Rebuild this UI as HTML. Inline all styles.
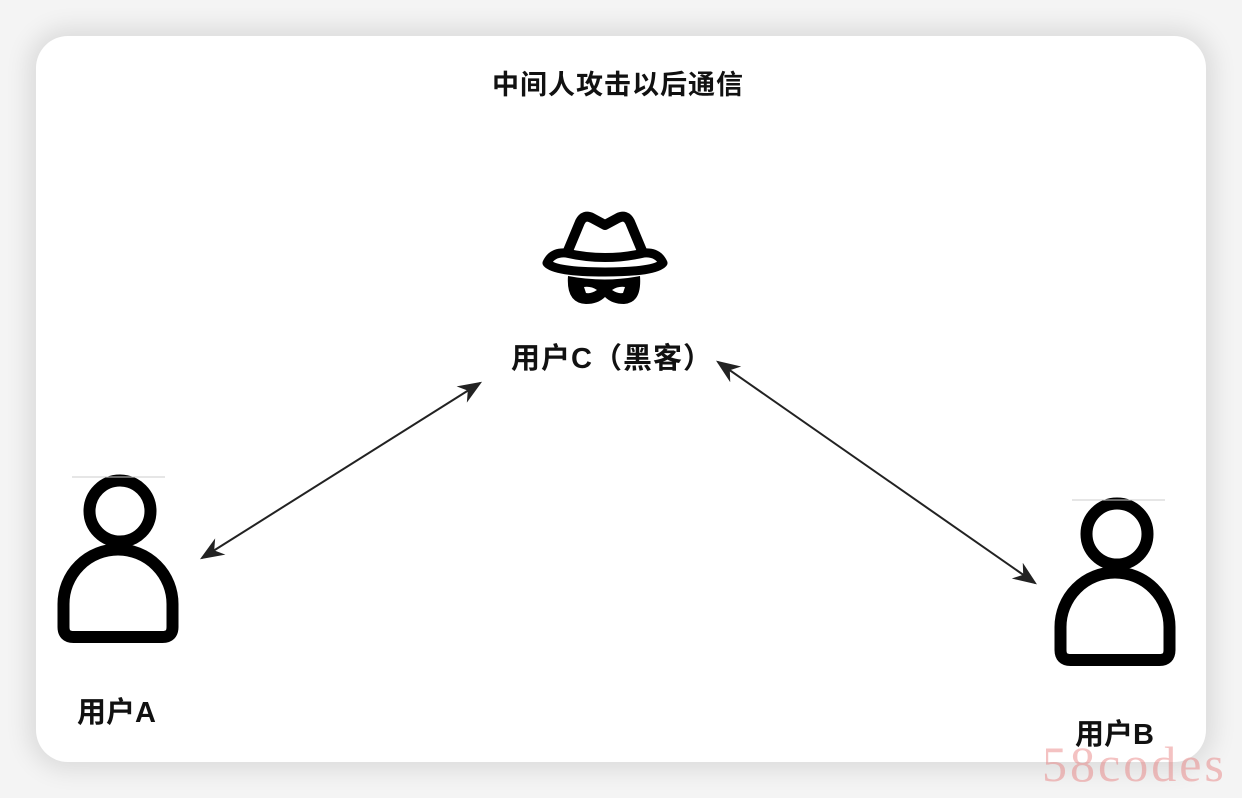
<!DOCTYPE html>
<html><head><meta charset="utf-8"><style>
html,body{margin:0;padding:0;}
body{width:1242px;height:798px;position:relative;overflow:hidden;background:#f4f4f4;font-family:"Liberation Sans","Noto Sans CJK SC",sans-serif;}
.card{position:absolute;left:36px;top:36px;width:1170px;height:726px;background:#fff;border-radius:32px;box-shadow:0 0 24px 8px rgba(0,0,0,0.10);}
.t{position:absolute;color:#111;white-space:nowrap;font-weight:bold;}
.wm{position:absolute;left:1042px;top:735px;font-family:"Liberation Serif",serif;font-size:50px;letter-spacing:3px;color:rgba(230,120,120,0.45);}
</style></head><body>
<div class="card"></div>
<svg width="1242" height="798" style="position:absolute;left:0;top:0">
<defs>
<marker id="a2" viewBox="0 0 10 10" refX="9" refY="5" markerWidth="24" markerHeight="24" orient="auto-start-reverse" markerUnits="userSpaceOnUse">
<path d="M0,1 L10,5 L0,9 L3,5 z" fill="#222"/></marker>
</defs>
<line x1="202" y1="558" x2="480" y2="383" stroke="#222" stroke-width="2" marker-start="url(#a2)" marker-end="url(#a2)"/>
<line x1="718" y1="362" x2="1035" y2="583" stroke="#222" stroke-width="2" marker-start="url(#a2)" marker-end="url(#a2)"/>
<g fill="none" stroke="#000" stroke-width="12">
<circle cx="120" cy="511" r="30.5"/>
<path d="M63.5,627 V604 A54.5,54.5 0 0 1 172.5,604 V627 Q172.5,637 162.5,637 H73.5 Q63.5,637 63.5,627 Z"/>
</g>
<line x1="72" y1="477" x2="165" y2="477" stroke="#ccc" stroke-width="1"/>
<g fill="none" stroke="#000" stroke-width="12" transform="translate(997,23)">
<circle cx="120" cy="511" r="30.5"/>
<path d="M63.5,627 V604 A54.5,54.5 0 0 1 172.5,604 V627 Q172.5,637 162.5,637 H73.5 Q63.5,637 63.5,627 Z"/>
</g>
<line x1="1072" y1="500" x2="1165" y2="500" stroke="#ccc" stroke-width="1"/>
<!-- hat -->
<g>
<path d="M565,258 L580,222 Q584,214 592,218 L605,225 L618,218 Q626,214 630,222 L645,258" fill="none" stroke="#000" stroke-width="10" stroke-linejoin="round" stroke-linecap="round"/>
<path d="M547,263 Q552,252 566,253 Q605,262 644,253 Q658,252 663,263 Q655,272 605,272 Q555,272 547,263 Z" fill="#fff" stroke="#000" stroke-width="9" stroke-linejoin="round"/>
<path d="M568,276 Q605,283 640,276 Q642,303 624,304 Q612,304 605,297 Q598,304 586,304 Q566,303 568,276 Z" fill="#000"/>
<path d="M584,287 Q591,286 597,290 Q591,294 586,293 Z" fill="#fff"/>
<path d="M625,287 Q618,286 612,290 Q618,294 623,293 Z" fill="#fff"/>
</g>
</svg>
<div class="t" style="left:492px;top:63px;font-size:27px;letter-spacing:1px;">中间人攻击以后通信</div>
<div class="t" style="left:511px;top:335px;font-size:29px;letter-spacing:1px;">用户C（黑客）</div>
<div class="t" style="left:77px;top:689px;font-size:29px;">用户A</div>
<div class="t" style="left:1075px;top:711px;font-size:29px;">用户B</div>
<div class="wm">58codes</div>
</body></html>
